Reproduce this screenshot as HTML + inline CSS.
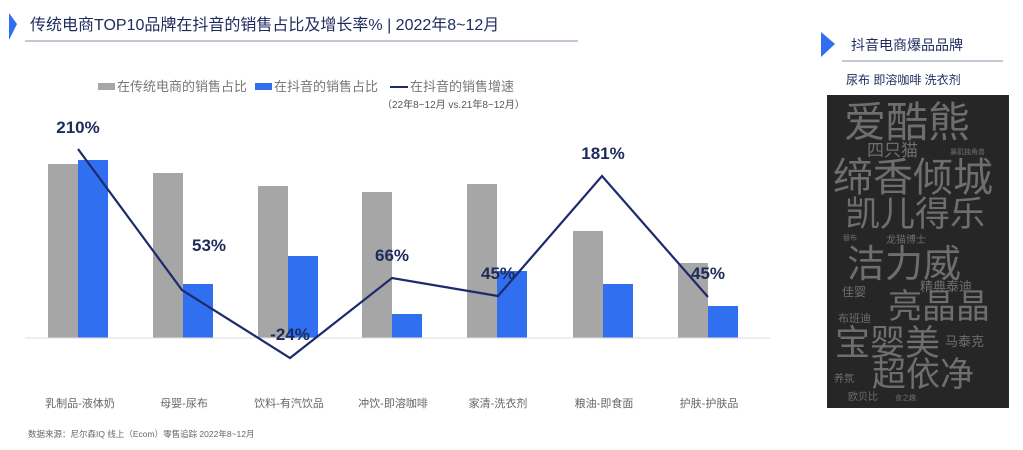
<!DOCTYPE html><html><head><meta charset="utf-8"><style>
body{margin:0;width:1023px;height:445px;background:#fff;overflow:hidden;font-family:"Liberation Sans","Noto Sans CJK SC",sans-serif}
</style></head><body>
<svg width="1023" height="445" xmlns="http://www.w3.org/2000/svg" font-family="Liberation Sans, Noto Sans CJK SC, sans-serif">
<polygon points="9,13 17,24 9,40" fill="#2f6ff0"/>
<text x="30" y="30" font-size="16" fill="#1d2a5c">传统电商TOP10品牌在抖音的销售占比及增长率% | 2022年8~12月</text>
<line x1="25" y1="41" x2="578" y2="41" stroke="#8a90a8" stroke-width="1"/>
<rect x="98" y="83" width="17" height="7" fill="#a6a6a6"/><text x="117" y="91" font-size="13" fill="#777">在传统电商的销售占比</text>
<rect x="255" y="83" width="17" height="7" fill="#2f6ff0"/><text x="274" y="91" font-size="13" fill="#777">在抖音的销售占比</text>
<line x1="390" y1="87" x2="408" y2="87" stroke="#1d2a6c" stroke-width="2"/><text x="410" y="91" font-size="13" fill="#777">在抖音的销售增速</text>
<text x="382" y="108" font-size="10" fill="#555">（22年8~12月 vs.21年8~12月）</text>
<g fill="#a6a6a6">
<rect x="48" y="164" width="30" height="174"/><rect x="153" y="173" width="30" height="165"/><rect x="258" y="186" width="30" height="152"/><rect x="362" y="192" width="30" height="146"/><rect x="467" y="184" width="30" height="154"/><rect x="573" y="231" width="30" height="107"/><rect x="678" y="263" width="30" height="75"/></g>
<g fill="#2f6ff0">
<rect x="78" y="160" width="30" height="178"/><rect x="183" y="284" width="30" height="54"/><rect x="288" y="256" width="30" height="82"/><rect x="392" y="314" width="30" height="24"/><rect x="497" y="271" width="30" height="67"/><rect x="603" y="284" width="30" height="54"/><rect x="708" y="306" width="30" height="32"/></g>
<line x1="25" y1="338" x2="770" y2="338" stroke="#ddd"/>
<polyline points="78,149 182,290 290,358 392,278 498,296 602,176 708,297" fill="none" stroke="#1d2a6c" stroke-width="2.2"/>
<g font-size="17" font-weight="bold" fill="#1d2a5c" text-anchor="middle">
<text x="78" y="133">210%</text><text x="209" y="251">53%</text><text x="290" y="340">-24%</text><text x="392" y="261">66%</text><text x="498" y="279">45%</text><text x="603" y="159">181%</text><text x="708" y="279">45%</text></g>
<g font-size="11" fill="#666" text-anchor="middle">
<text x="80" y="407">乳制品-液体奶</text><text x="184" y="407">母婴-尿布</text><text x="289" y="407">饮料-有汽饮品</text><text x="393" y="407">冲饮-即溶咖啡</text><text x="498" y="407">家清-洗衣剂</text><text x="604" y="407">粮油-即食面</text><text x="709" y="407">护肤-护肤品</text></g>
<text x="28" y="437" font-size="8.5" fill="#666">数据来源：尼尔森IQ 线上（Ecom）零售追踪 2022年8~12月</text>
<polygon points="821,32 835,44 821,57" fill="#2f6ff0"/>
<text x="851" y="50" font-size="14" fill="#1d2a5c">抖音电商爆品品牌</text>
<line x1="842" y1="61" x2="1003" y2="61" stroke="#8a90a8"/>
<text x="846" y="84" font-size="12" fill="#1d2a5c">尿布 即溶咖啡 洗衣剂</text>
<rect x="827" y="95" width="182" height="313" fill="#262626"/>
<g fill="#6e6e6e">
<text x="844" y="137" font-size="42">爱酷熊</text>
<text x="867" y="156" font-size="17">四只猫</text>
<text x="950" y="154" font-size="7">暴肌独角兽</text>
<text x="833" y="191" font-size="40">缔香倾城</text>
<text x="845" y="226" font-size="35">凯儿得乐</text>
<text x="843" y="240" font-size="7">替布</text>
<text x="886" y="243" font-size="10">龙猫博士</text>
<text x="847" y="277" font-size="38">洁力威</text>
<text x="920" y="291" font-size="13">精典泰迪</text>
<text x="842" y="296" font-size="12">佳婴</text>
<text x="888" y="318" font-size="34">亮晶晶</text>
<text x="838" y="322" font-size="11">布班迪</text>
<text x="835" y="355" font-size="35">宝婴美</text>
<text x="945" y="346" font-size="13">马泰克</text>
<text x="872" y="386" font-size="34">超依净</text>
<text x="834" y="382" font-size="10">养氛</text>
<text x="848" y="400" font-size="10">欧贝比</text>
<text x="895" y="400" font-size="7">食之趣</text></g>
</svg></body></html>
